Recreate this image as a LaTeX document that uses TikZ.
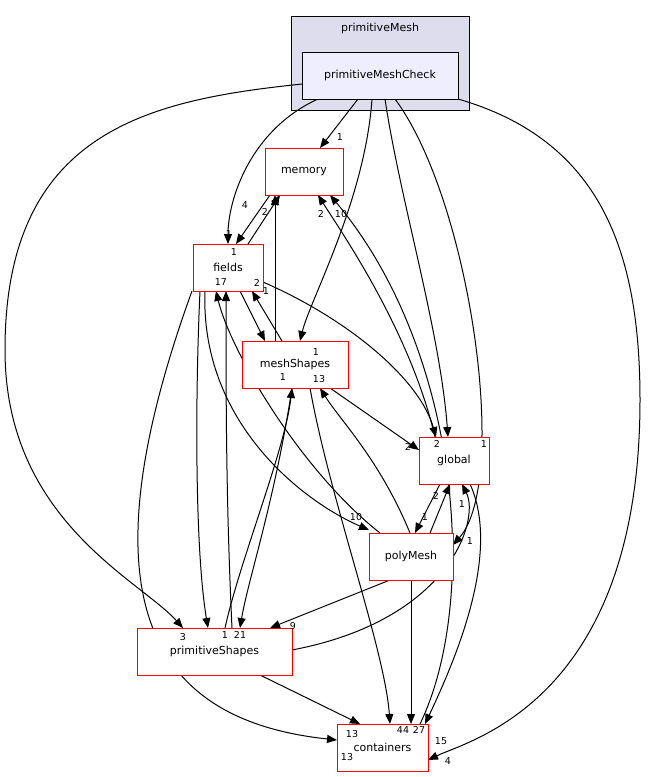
\documentclass[tikz,border=0pt]{standalone}
\usepackage{fontspec}
\setmainfont{DejaVu Sans}
\usetikzlibrary{arrows.meta}
\begin{document}
\begin{tikzpicture}[x=1pt,y=-1pt,
    dir/.style={draw=red, line width=1pt, fill=white, minimum height=47pt, font=\fontsize{11}{13}\selectfont, inner sep=0pt},
    dep/.style={-{Triangle[length=10pt,width=8pt]}, line width=1pt, black},
    lab/.style={font=\fontsize{9.5}{11}\selectfont, inner sep=0pt}]
  \useasboundingbox (0,0) rectangle (648,777);
  % cluster
  \draw[line width=1pt, fill={rgb,255:red,221;green,221;blue,238}] (291,16) rectangle (469,110);
  \node[lab, font=\fontsize{11}{13}\selectfont] (clu) at (380,28) {primitiveMesh};

  % dependencies of primitiveMeshCheck
  \draw[dep] (358,99) -- (320,148);
  \draw[dep] (318,99) .. controls (250,130) and (228,200) .. (228,244);
  \draw[dep] (372,99) .. controls (365,200) and (310,300) .. (300,341);
  \draw[dep] (385,99) .. controls (400,200) and (440,330) .. (448,437);
  \draw[dep] (395,99) .. controls (470,200) and (510,480) .. (453,545);
  \draw[dep] (302,84) .. controls (150,100) and (5,130) .. (5,350)
    .. controls (5,520) and (140,580) .. (183,628);
  \draw[dep] (458,99) .. controls (600,140) and (640,250) .. (640,400)
    .. controls (640,700) and (470,740) .. (428,760);

  % the other dependencies
  \draw[dep] (248,244) -- (280,195);
  \draw[dep] (270,195) -- (236,244);
  \draw[dep] (275,341) -- (275,195);
  \draw[dep] (435,437) .. controls (410,330) and (340,230) .. (318,195);
  \draw[dep] (420,724) .. controls (480,600) and (460,350) .. (330,195);
  \draw[dep] (240,291) -- (265,341);
  \draw[dep] (282,341) -- (252,291);
  \draw[dep] (263,282) .. controls (350,320) and (420,380) .. (436,437);
  \draw[dep] (205,291) .. controls (200,420) and (300,500) .. (369,530);
  \draw[dep] (200,291) .. controls (195,400) and (195,550) .. (208,628);
  \draw[dep] (192,291) .. controls (80,600) and (150,720) .. (337,740);
  \draw[dep] (380,533) .. controls (300,470) and (230,350) .. (216,291);
  \draw[dep] (232,628) .. controls (226,500) and (226,400) .. (226,291);
  \draw[dep] (330,388) -- (419,450);
  \draw[dep] (310,388) .. controls (330,500) and (385,650) .. (390,724);
  \draw[dep] (292,388) .. controls (275,500) and (248,580) .. (240,628);
  \draw[dep] (225,628) .. controls (240,560) and (285,450) .. (292,388);
  \draw[dep] (410,533) .. controls (380,460) and (340,420) .. (320,388);
  \draw[dep] (430,533) -- (450,484);
  \draw[dep] (440,484) -- (415,533);
  \draw[dep] (292,650) .. controls (450,620) and (480,520) .. (462,484);
  \draw[dep] (390,580) -- (270,628);
  \draw[dep] (411,580) -- (411,724);
  \draw[dep] (260,675) -- (360,724);
  \draw[dep] (470,484) .. controls (500,550) and (460,650) .. (425,724);

  % directories
  \node[dir, draw=black, fill={rgb,255:red,238;green,238;blue,255}, minimum width=156pt] (pmc) at (380,75.5) {primitiveMeshCheck};
  \node[dir, minimum width=78pt]  (memory) at (304,171.5) {memory};
  \node[dir, minimum width=70pt]  (fields) at (228,267.5) {fields};
  \node[dir, minimum width=106pt] (meshshapes) at (295,364.5) {meshShapes};
  \node[dir, minimum width=70pt]  (global) at (454,460.5) {global};
  \node[dir, minimum width=84pt]  (polymesh) at (411,556.5) {polyMesh};
  \node[dir, minimum width=155pt] (primshapes) at (214.5,651.5) {primitiveShapes};
  \node[dir, minimum width=91pt]  (containers) at (382.5,747.5) {containers};

  % labels
  \node[lab] (l1) at (340,137) {1};
  \node[lab] (l2) at (234,252) {1};
  \node[lab] (l3) at (316,352) {1};
  \node[lab] (l4) at (484,444) {1};
  \node[lab] (l5) at (470,541) {1};
  \node[lab] (l6) at (183,637) {3};
  \node[lab] (l7) at (448,761) {4};
  \node[lab] (l8) at (245,205) {4};
  \node[lab] (l9) at (229,234) {1};
  \node[lab] (l10) at (265,212) {2};
  \node[lab] (l11) at (321,214) {2};
  \node[lab] (l12) at (341,214) {10};
  \node[lab] (l13) at (257,283) {2};
  \node[lab] (l14) at (266,291) {1};
  \node[lab] (l15) at (437,444) {2};
  \node[lab] (l16) at (356,517) {10};
  \node[lab] (l17) at (225,635) {1};
  \node[lab] (l18) at (347,757) {13};
  \node[lab] (l19) at (224,282) {7};
  \node[lab] (l20) at (218,282) {1};
  \node[lab] (l21) at (408,447) {2};
  \node[lab] (l22) at (403,730) {44};
  \node[lab] (l23) at (240,635) {21};
  \node[lab] (l24) at (283,377) {1};
  \node[lab] (l25) at (319,379) {13};
  \node[lab] (l26) at (436,496) {2};
  \node[lab] (l27) at (425,517) {1};
  \node[lab] (l28) at (462,504) {1};
  \node[lab] (l29) at (293,626) {9};
  \node[lab] (l30) at (419,730) {27};
  \node[lab] (l31) at (352,734) {13};
  \node[lab] (l32) at (441,741) {15};
\end{tikzpicture}
\end{document}
